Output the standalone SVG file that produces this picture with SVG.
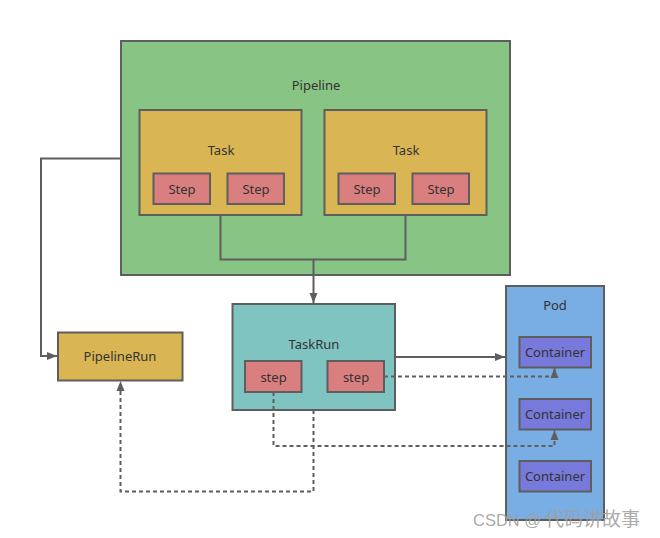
<svg xmlns="http://www.w3.org/2000/svg" width="660" height="538" viewBox="0 0 660 538">
<defs>
<style>
.box{stroke:#5e5e5e;stroke-width:2}
.pipe{fill:#88c484}
.task{fill:#d9b653}
.step{fill:#da7f7f}
.trun{fill:#80c4c2}
.pod{fill:#78aee3}
.cont{fill:#7779db}
text{font-family:"Noto Sans","Open Sans","Liberation Sans",sans-serif;font-size:13px;fill:#333;text-anchor:middle;dominant-baseline:central}
.ln{fill:none;stroke:#5e5e5e;stroke-width:2}
.dash{fill:none;stroke:#5e5e5e;stroke-width:2;stroke-dasharray:4 3}
.wm{font-family:"Liberation Sans","Noto Sans CJK SC",sans-serif;font-size:16.5px;fill:#a0a0a0;fill-opacity:0.9;text-anchor:start;dominant-baseline:alphabetic}
.cjk{font-family:"Noto Sans CJK SC",sans-serif;font-size:19px}
</style>
<marker id="arr" viewBox="0 0 10 10" refX="10" refY="5" markerWidth="10" markerHeight="10" markerUnits="userSpaceOnUse" orient="auto">
<path d="M0,1 L10,5 L0,9 z" fill="#5e5e5e"/>
</marker>
</defs>
<rect width="660" height="538" fill="#fff"/>
<g id="pipeline">
<rect class="box pipe" x="121" y="41" width="389" height="234"/>
<text x="316" y="85">Pipeline</text>
</g>
<g id="task1">
<rect class="box task" x="139.5" y="110" width="162" height="105"/>
<text x="221" y="150">Task</text>
</g>
<g id="step1">
<rect class="box step" x="153.5" y="173.5" width="56.5" height="30.5"/>
<text x="182" y="188.5">Step</text>
</g>
<g id="step2">
<rect class="box step" x="227.5" y="173.5" width="56.5" height="30.5"/>
<text x="256" y="188.5">Step</text>
</g>
<g id="task2">
<rect class="box task" x="324.5" y="110" width="162" height="105"/>
<text x="406" y="150">Task</text>
</g>
<g id="step3">
<rect class="box step" x="338.5" y="173.5" width="56.5" height="30.5"/>
<text x="367" y="188.5">Step</text>
</g>
<g id="step4">
<rect class="box step" x="412.5" y="173.5" width="56.5" height="30.5"/>
<text x="441" y="188.5">Step</text>
</g>
<g id="pipelinerun">
<rect class="box task" x="58" y="332.5" width="124.5" height="48"/>
<text x="120" y="356">PipelineRun</text>
</g>
<g id="taskrun">
<rect class="box trun" x="232.5" y="304" width="162.5" height="106"/>
<text x="314" y="344">TaskRun</text>
</g>
<g id="trstep1">
<rect class="box step" x="245" y="361" width="56.5" height="31"/>
<text x="273.5" y="376.5">step</text>
</g>
<g id="trstep2">
<rect class="box step" x="327.5" y="361" width="56.5" height="31"/>
<text x="356" y="376.5">step</text>
</g>
<g id="pod">
<rect class="box pod" x="506" y="286" width="98" height="234"/>
<text x="555" y="305">Pod</text>
</g>
<g id="container1">
<rect class="box cont" x="519.5" y="337" width="71.5" height="30.5"/>
<text x="555" y="352">Container</text>
</g>
<g id="container2">
<rect class="box cont" x="519.5" y="399" width="71.5" height="30.5"/>
<text x="555" y="414">Container</text>
</g>
<g id="container3">
<rect class="box cont" x="519.5" y="461" width="71.5" height="30.5"/>
<text x="555" y="476">Container</text>
</g>
<g id="connectors">
<path class="ln" d="M220.5,215 V259.5 H405.5 V215"/>
<path class="ln" d="M313.5,259.5 V303" marker-end="url(#arr)"/>
<path class="ln" d="M121,158.5 H41 V356 H57" marker-end="url(#arr)"/>
<path class="ln" d="M395,357 H505" marker-end="url(#arr)"/>
<path class="dash" d="M384,376.5 H554.5 V368" marker-end="url(#arr)"/>
<path class="dash" d="M273.5,392 V446 H554.5 V430" marker-end="url(#arr)"/>
<path class="dash" d="M313.5,410 V491.5 H120.5 V381" marker-end="url(#arr)"/>
</g>
<text class="wm" x="473" y="526">CSDN @<tspan class="cjk" dx="4">代码讲故事</tspan></text>
</svg>
